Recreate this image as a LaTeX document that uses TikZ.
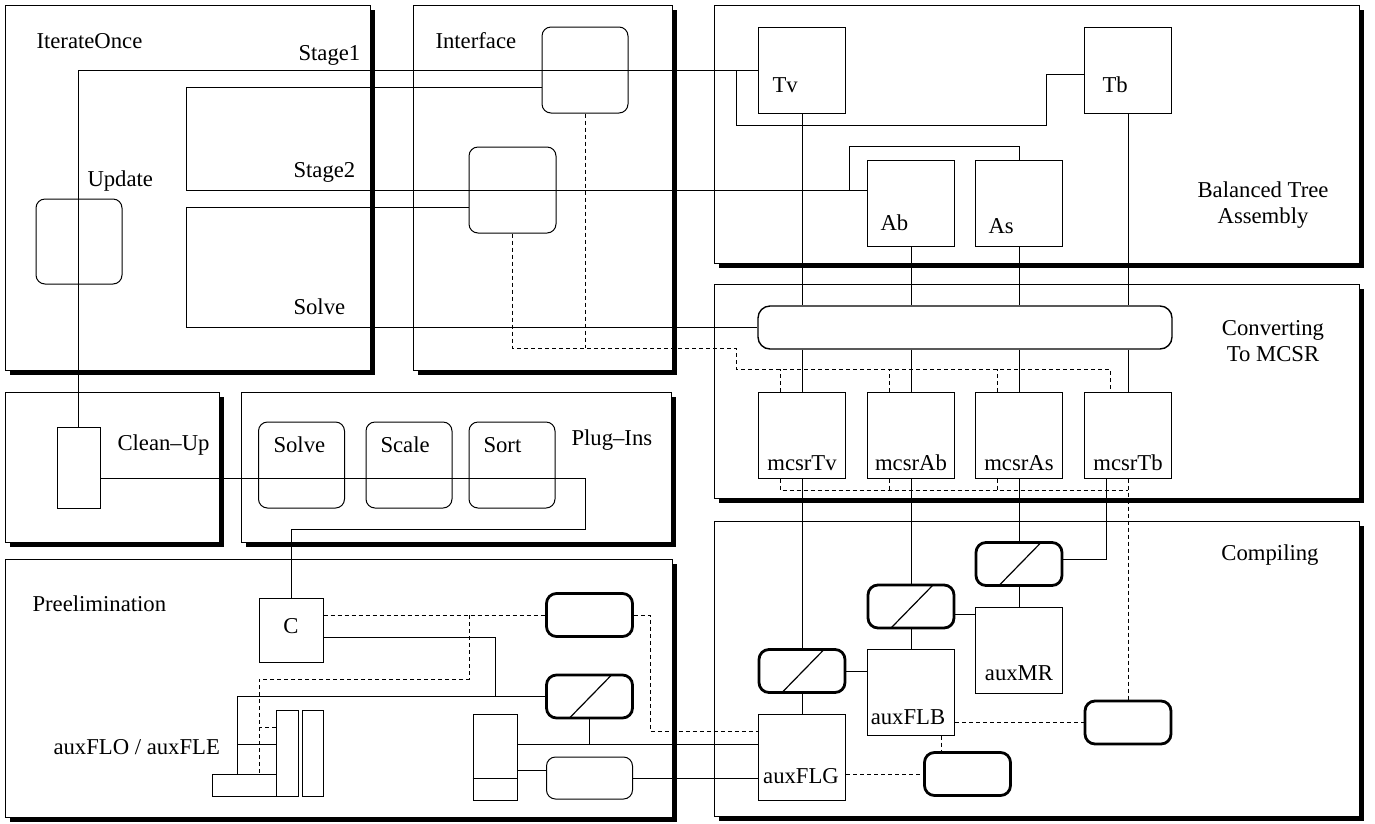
\documentclass[tikz,border=0pt]{standalone}
\usepackage{fontspec}
\setmainfont{Liberation Serif}
\usetikzlibrary{shadows,calc}

\begin{document}
\begin{tikzpicture}[
  x=1pt,y=-1pt,
  font=\fontsize{22.7}{26}\selectfont,
  line width=1pt,
  panel/.style={draw,fill=white,anchor=north west,inner sep=0pt,
    general shadow={fill=black,shadow xshift=4.5pt,shadow yshift=-4.5pt}},
  ttl/.style ={anchor=base west,inner sep=0pt},
  lbl/.style ={anchor=base,inner sep=0pt},
  box/.style ={draw,inner sep=0pt,minimum width=87pt,minimum height=86pt},
  rbox/.style={box,rounded corners=9pt},
  hbox/.style={draw,line width=2.8pt,rounded corners=10pt,inner sep=0pt,minimum width=86pt,minimum height=43pt},
  dbox/.style={hbox,path picture={\draw[line width=1.2pt] ([xshift=23pt]path picture bounding box.south west) -- ([xshift=65pt]path picture bounding box.north west);}},
  dsh/.style ={dash pattern=on 4pt off 3pt}
]
\useasboundingbox (0,0) rectangle (1375,823);
% panels
\node[panel,minimum width=365pt,minimum height=365pt] (pIter)  at (5,5)     {};
\node[panel,minimum width=259pt,minimum height=365pt] (pIntf)  at (413,5)   {};
\node[panel,minimum width=645pt,minimum height=258pt] (pBal)   at (714,5)   {};
\node[panel,minimum width=645pt,minimum height=214pt] (pConv)  at (714,284) {};
\node[panel,minimum width=214pt,minimum height=150pt] (pClean) at (5,392)   {};
\node[panel,minimum width=430pt,minimum height=150pt] (pPlug)  at (241,392) {};
\node[panel,minimum width=667pt,minimum height=258pt] (pPre)   at (5,559)   {};
\node[panel,minimum width=645pt,minimum height=295pt] (pComp)  at (714,521) {};
% titles
\node[ttl] (tIter)  at (36,48)   {IterateOnce};
\node[ttl] (tStg1)  at (298,60)  {Stage1};
\node[ttl] (tUpd)   at (87,186)  {Update};
\node[ttl] (tStg2)  at (293,177) {Stage2};
\node[ttl] (tSolve) at (293,314) {Solve};
\node[ttl] (tIntf)  at (435,48)  {Interface};
\node[align=center] (tBal)  at (1263,205) {Balanced Tree\\Assembly};
\node[align=center] (tConv) at (1273,341) {Converting\\To MCSR};
\node (tComp) at (1270,555) {Compiling};
\node[ttl] (tClean) at (117,450) {Clean--Up};
\node[ttl] (tPlug)  at (571,445) {Plug--Ins};
\node[ttl] (tPre)   at (32,611)  {Preelimination};
\node[ttl] (tFlo)   at (53,754)  {auxFLO / auxFLE};
% iterate / interface
\node[rbox,minimum width=86pt,minimum height=85pt] (upd) at (79,241.5) {};
\node[rbox,minimum width=86pt] (intfA) at (585,70)    {};
\node[rbox]                    (intfB) at (512.5,190) {};
% balanced tree
\node[box] (tv) at (802,70)   {};
\node[box] (tb) at (1128,70)  {};
\node[box] (ab) at (911,203)  {};
\node[box] (as) at (1019,203) {};
\node[ttl] (ltv) at (772,92)  {Tv};
\node[ttl] (ltb) at (1102,92) {Tb};
\node[ttl] (lab) at (880,230) {Ab};
\node[ttl] (las) at (988,233) {As};
% converting
\node[draw,line width=1.4pt,rounded corners=12pt,inner sep=0pt,minimum width=414pt,minimum height=43pt] (bar) at (965,327.5) {};
\node[box] (mcsrtv) at (802,435)  {};
\node[box] (mcsrab) at (911,435)  {};
\node[box] (mcsras) at (1019,435) {};
\node[box] (mcsrtb) at (1128,435) {};
\node[lbl] (lmtv) at (802,470)  {mcsrTv};
\node[lbl] (lmab) at (911,470)  {mcsrAb};
\node[lbl] (lmas) at (1019,470) {mcsrAs};
\node[lbl] (lmtb) at (1128,470) {mcsrTb};
% compiling
\node[dbox] (d1)   at (1019,564)   {};
\node[dbox] (d2)   at (911,606.5)  {};
\node[dbox] (d3)   at (802,671)    {};
\node[box]  (amr)  at (1019,650)   {};
\node[box]  (aflb) at (911,692)    {};
\node[box]  (aflg) at (802,757)    {};
\node[hbox] (r1)   at (1128,722.5) {};
\node[hbox] (r2)   at (967.5,774)  {};
\node[lbl] (lamr)  at (1019,680) {auxMR};
\node[lbl] (laflb) at (908,724)  {auxFLB};
\node[lbl] (laflg) at (801,783)  {auxFLG};
% clean-up / plug-ins
\node[box,minimum width=43pt,minimum height=81pt] (cu) at (78.5,467.5) {};
\node[rbox,minimum width=86pt] (ps)  at (301.5,465) {};
\node[rbox,minimum width=86pt] (psc) at (409,465)   {};
\node[rbox,minimum width=86pt] (pso) at (512,465)   {};
\node[ttl] (lps)  at (273,452) {Solve};
\node[ttl] (lpsc) at (380,452) {Scale};
\node[ttl] (lpso) at (483,452) {Sort};
% preelimination
\node[box,minimum width=64pt,minimum height=64pt] (cb) at (291,630) {};
\node[lbl] (lcb) at (291,633) {C};
\node[hbox] (r3) at (589.5,615)   {};
\node[dbox] (d4) at (589.5,696.5) {};
\node[rbox,minimum width=86pt,minimum height=42pt] (r4) at (589.5,778) {};
\node[box,minimum width=44pt,minimum height=86pt] (sb) at (495,757)   {};
\node[box,minimum width=64pt,minimum height=22pt] (fb) at (244,785)   {};
\node[box,minimum width=22pt,minimum height=86pt] (t1) at (287,753)   {};
\node[box,minimum width=21pt,minimum height=86pt] (t2) at (312.5,753) {};
\draw (sb.west |- 0,778) -- (sb.east |- 0,778);

% stage1
\coordinate (j1) at (736,70);
\draw (tv.west) -| (cu.north);
\draw (j1) |- (1046,125) |- ([yshift=-4pt]tb.west);
% stage2
\coordinate (j2) at (849,190);
\draw ([yshift=-17pt]intfA.west) -| (186,190) -- ([yshift=13pt]ab.west);
\draw (j2) |- ([yshift=13pt]as.north) -- (as.north);
% solve
\draw ([yshift=-17pt]intfB.west) -| (186,327.5) -- (bar.west);
\draw[dsh] (intfB.south) |- (736,348) -- ++(0,21) -| ([xshift=-18pt]mcsrtb.north);
\draw[dsh] (intfA.south) -- (intfA.south |- 0,348);
\foreach \n in {mcsrtv,mcsrab,mcsras} \draw[dsh] ([xshift=-22pt]\n.north) -- ++(0,-23);
% columns
\foreach \a/\b in {tv/mcsrtv,ab/mcsrab,as/mcsras,tb/mcsrtb}{
  \draw (\a.south) -- (\a.south |- bar.north);
  \draw (\b.north |- bar.south) -- (\b.north);
}
\draw (mcsrtv.south) -- (d3.north);
\draw (mcsrab.south) -- (d2.north);
\draw (mcsras.south) -- (d1.north);
\draw ([xshift=-22pt]mcsrtb.south) |- ([yshift=5pt]d1.east);
\draw[dsh] ([xshift=-22pt]mcsrtv.south) |- (mcsrtb.south |- 0,490);
\foreach \n in {mcsrab,mcsras} \draw[dsh] ([xshift=-22pt]\n.south) -- ++(0,12);
\draw[dsh] (mcsrtb.south) -- (r1.north);
% compiling
\draw (d1.south) -- (amr.north);
\draw ([yshift=-8pt]d2.east) -- ([yshift=-8pt]d2.east -| amr.west);
\draw (d2.south) -- (aflb.north);
\draw (d3.east) -- (d3.east -| aflb.west);
\draw (d3.south) -- (aflg.north);
\draw[dsh] (r1.west -| aflb.east) -- (r1.west);
\draw[dsh] ([xshift=30pt]aflb.south) -- ([xshift=30pt]aflb.south |- r2.north);
\draw[dsh] (aflg.east |- r2.west) -- (r2.west);
% clean-up to C
\draw ([yshift=-10.5pt]cu.east) -| (585,529) -| (cb.north);
% preelimination
\coordinate (j3) at (469,615);
\draw[dsh] (cb.east |- r3.west) -- (r3.west);
\draw[dsh] (j3) -- (469,679) -| ([xshift=15pt]fb.north);
\draw[dsh] (t1.west |- 0,727) -- (259,727);
\draw[dsh] (r3.east) -| (650,731) -- (aflg.west |- 0,731);
\draw (cb.east |- 0,637) -| (495,697);
\draw (d4.west) -- (237,696.5) -- ([xshift=-7pt]fb.north);
\draw (237,744) -- (t1.west |- 0,744);
\draw (d4.south) -- (d4.south |- 0,744);
\draw (sb.east |- 0,744) -- (aflg.west |- 0,744);
\draw (sb.east |- 0,770) -- (r4.west |- 0,770);
\draw (r4.east) -- (r4.east -| aflg.west);
\end{tikzpicture}
\end{document}
